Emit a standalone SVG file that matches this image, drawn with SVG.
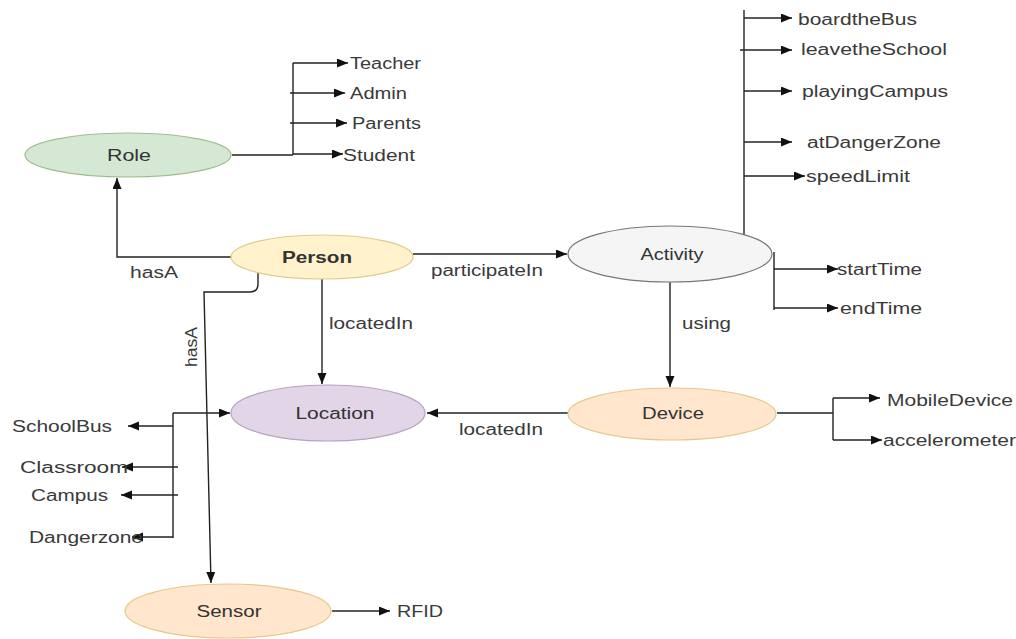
<svg xmlns="http://www.w3.org/2000/svg" width="1016" height="639" viewBox="0 0 1016 639">
<style>
.t{font-family:"Liberation Sans",Arial,sans-serif;font-size:16px;fill:#3a3a3a}
.n{font-family:"Liberation Sans",Arial,sans-serif;font-size:16px;fill:#333;text-anchor:middle}
.b{font-weight:bold}
.c path{fill:none;stroke:#222;stroke-width:1.4}
</style>
<defs>
<marker id="ah" markerUnits="userSpaceOnUse" markerWidth="12" markerHeight="10" refX="11" refY="4.5" orient="auto">
<path d="M0,0 L11,4.5 L0,9 z" fill="#111"/>
</marker>
</defs>
<rect width="1016" height="639" fill="#fff"/>

<g id="connectors" class="c">
<path d="M232,155 H293 M293,63 V155"/>
<path d="M293,63 H348" marker-end="url(#ah)"/>
<path d="M290,93 H345" marker-end="url(#ah)"/>
<path d="M290,123 H347" marker-end="url(#ah)"/>
<path d="M293,154 H343" marker-end="url(#ah)"/>
<path d="M232,257 H117 V178" marker-end="url(#ah)"/>
<path d="M413,254 H567" marker-end="url(#ah)"/>
<path d="M744,10 V235"/>
<path d="M744,18 H792" marker-end="url(#ah)"/>
<path d="M740,50 H792" marker-end="url(#ah)"/>
<path d="M744,91 H792" marker-end="url(#ah)"/>
<path d="M744,142 H792" marker-end="url(#ah)"/>
<path d="M744,176 H805" marker-end="url(#ah)"/>
<path d="M774,252 V310"/>
<path d="M774,269 H838" marker-end="url(#ah)"/>
<path d="M774,308 H838" marker-end="url(#ah)"/>
<path d="M670,282 V387" marker-end="url(#ah)"/>
<path d="M568,413 H427" marker-end="url(#ah)"/>
<path d="M777,413 H833 M833,398 V440"/>
<path d="M833,398 H880" marker-end="url(#ah)"/>
<path d="M833,440 H882" marker-end="url(#ah)"/>
<path d="M322,279 V384" marker-end="url(#ah)"/>
<path d="M258,270 V284 Q258,292 250,292 H204 L211,583" marker-end="url(#ah)"/>
<path d="M173,413 H230" marker-end="url(#ah)"/>
<path d="M173,413 V538"/>
<path d="M173,426 H128" marker-end="url(#ah)"/>
<path d="M178,467 H122" marker-end="url(#ah)"/>
<path d="M178,495 H121" marker-end="url(#ah)"/>
<path d="M173,537 H132" marker-end="url(#ah)"/>
<path d="M332,611 H390" marker-end="url(#ah)"/>
</g>

<g id="edge-labels">
<text class="t" x="130" y="278" textLength="48" lengthAdjust="spacingAndGlyphs">hasA</text>
<text class="t" x="431" y="276" textLength="112" lengthAdjust="spacingAndGlyphs">participateIn</text>
<text class="t" x="329" y="329" textLength="84" lengthAdjust="spacingAndGlyphs">locatedIn</text>
<text class="t" x="682" y="329" textLength="49" lengthAdjust="spacingAndGlyphs">using</text>
<text class="t" x="459" y="435" textLength="84" lengthAdjust="spacingAndGlyphs">locatedIn</text>
<text class="t" text-anchor="middle" transform="translate(197,347) rotate(-90)" textLength="40" lengthAdjust="spacingAndGlyphs">hasA</text>
</g>

<g id="role">
<ellipse cx="128" cy="155" rx="103" ry="22" fill="#d5e8d4" stroke="#9cbf8a" stroke-width="1.2"/>
<text class="n" x="129" y="161" textLength="44" lengthAdjust="spacingAndGlyphs">Role</text>
</g>
<g id="person">
<ellipse cx="322" cy="257" rx="91" ry="22" fill="#fff2cc" stroke="#e0cb8a" stroke-width="1.2"/>
<text class="n b" x="317" y="263" textLength="70" lengthAdjust="spacingAndGlyphs">Person</text>
</g>
<g id="activity">
<ellipse cx="670" cy="254" rx="102" ry="28" fill="#f5f5f5" stroke="#777" stroke-width="1.2"/>
<text class="n" x="672" y="260" textLength="63" lengthAdjust="spacingAndGlyphs">Activity</text>
</g>
<g id="location">
<ellipse cx="328" cy="413" rx="97" ry="28" fill="#e1d5e7" stroke="#b5a3c0" stroke-width="1.2"/>
<text class="n" x="335" y="419" textLength="79" lengthAdjust="spacingAndGlyphs">Location</text>
</g>
<g id="device">
<ellipse cx="672" cy="414" rx="104" ry="26" fill="#ffe6cc" stroke="#e6c98a" stroke-width="1.2"/>
<text class="n" x="673" y="419" textLength="62" lengthAdjust="spacingAndGlyphs">Device</text>
</g>
<g id="sensor">
<ellipse cx="228" cy="611" rx="103" ry="27" fill="#ffe6cc" stroke="#e6c98a" stroke-width="1.2"/>
<text class="n" x="229" y="617" textLength="65" lengthAdjust="spacingAndGlyphs">Sensor</text>
</g>

<g id="role-values">
<text class="t" x="350" y="69" textLength="71" lengthAdjust="spacingAndGlyphs">Teacher</text>
<text class="t" x="350" y="99" textLength="57" lengthAdjust="spacingAndGlyphs">Admin</text>
<text class="t" x="352" y="129" textLength="69" lengthAdjust="spacingAndGlyphs">Parents</text>
<text class="t" x="343" y="161" textLength="72" lengthAdjust="spacingAndGlyphs">Student</text>
</g>
<g id="activity-values">
<text class="t" x="798" y="25" textLength="119" lengthAdjust="spacingAndGlyphs">boardtheBus</text>
<text class="t" x="801" y="55" textLength="146" lengthAdjust="spacingAndGlyphs">leavetheSchool</text>
<text class="t" x="802" y="97" textLength="146" lengthAdjust="spacingAndGlyphs">playingCampus</text>
<text class="t" x="807" y="148" textLength="134" lengthAdjust="spacingAndGlyphs">atDangerZone</text>
<text class="t" x="806" y="182" textLength="104" lengthAdjust="spacingAndGlyphs">speedLimit</text>
<text class="t" x="837" y="275" textLength="85" lengthAdjust="spacingAndGlyphs">startTime</text>
<text class="t" x="840" y="314" textLength="82" lengthAdjust="spacingAndGlyphs">endTime</text>
</g>
<g id="device-values">
<text class="t" x="887" y="406" textLength="126" lengthAdjust="spacingAndGlyphs">MobileDevice</text>
<text class="t" x="883" y="446" textLength="133" lengthAdjust="spacingAndGlyphs">accelerometer</text>
</g>
<g id="location-values">
<text class="t" x="12" y="432" textLength="100" lengthAdjust="spacingAndGlyphs">SchoolBus</text>
<text class="t" x="20" y="473" textLength="108" lengthAdjust="spacingAndGlyphs">Classroom</text>
<text class="t" x="31" y="501" textLength="77" lengthAdjust="spacingAndGlyphs">Campus</text>
<text class="t" x="29" y="543" textLength="114" lengthAdjust="spacingAndGlyphs">Dangerzone</text>
</g>
<g id="sensor-values">
<text class="t" x="397" y="617" textLength="46" lengthAdjust="spacingAndGlyphs">RFID</text>
</g>
</svg>
